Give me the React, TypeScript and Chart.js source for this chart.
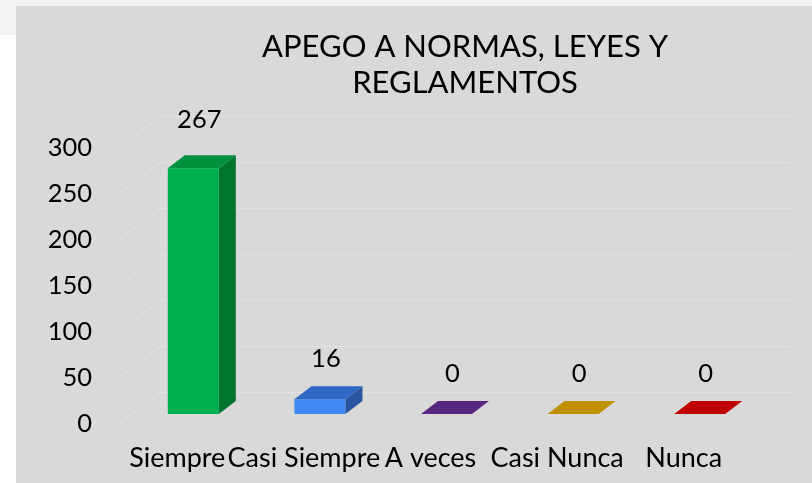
import React, { useEffect, useRef } from 'react';
import { Chart, registerables } from 'chart.js';

Chart.register(...registerables);

const categories = ['Siempre', 'Casi Siempre', 'A veces', 'Casi Nunca', 'Nunca'];
const values = [267, 16, 0, 0, 0];
const yTicks = [0, 50, 100, 150, 200, 250, 300];
const titleLines = ['APEGO A NORMAS, LEYES Y', 'REGLAMENTOS'];

const frontColors = ['#00b050', '#4389f4', '#5b2a86', '#c09000', '#c40000'];
const topColors = ['#00913f', '#2f67c4', '#582681', '#bf9000', '#c00000'];
const sideColors = ['#00752f', '#2a55a0', '#45206a', '#9a7400', '#9a0000'];

const FONT = 'Lato';
const DX = 17;
const DY = -13;

const threeD = {
  id: 'threeD',
  beforeDatasetsDraw(chart: any) {
    const ctx = chart.ctx;
    const ys = chart.scales.y;
    const area = chart.chartArea;
    ctx.save();
    ctx.strokeStyle = '#e2e2e2';
    ctx.lineWidth = 1;
    const x0 = area.left - 13;
    yTicks.forEach((v) => {
      const py = Math.round(ys.getPixelForValue(v) + 10) + 0.5;
      ctx.beginPath();
      ctx.moveTo(x0, py);
      ctx.lineTo(x0 + 43, py - 32);
      ctx.lineTo(area.right + 28, py - 32);
      ctx.stroke();
    });
    ctx.restore();
  },
  afterDatasetsDraw(chart: any) {
    const ctx = chart.ctx;
    const meta = chart.getDatasetMeta(0);
    ctx.save();
    meta.data.forEach((bar: any, i: number) => {
      const { x, y, base, width } = bar.getProps(['x', 'y', 'base', 'width'], true);
      const l = x - width / 2;
      const r = x + width / 2;
      if (base - y > 0.5) {
        ctx.fillStyle = sideColors[i];
        ctx.beginPath();
        ctx.moveTo(r, y);
        ctx.lineTo(r + DX, y + DY);
        ctx.lineTo(r + DX, base + DY);
        ctx.lineTo(r, base);
        ctx.closePath();
        ctx.fill();
      }
      ctx.fillStyle = topColors[i];
      ctx.beginPath();
      ctx.moveTo(l, y);
      ctx.lineTo(r, y);
      ctx.lineTo(r + DX, y + DY);
      ctx.lineTo(l + DX, y + DY);
      ctx.closePath();
      ctx.fill();
    });
    ctx.restore();
  },
  afterDraw(chart: any) {
    const ctx = chart.ctx;
    const meta = chart.getDatasetMeta(0);
    ctx.save();
    ctx.fillStyle = '#000';
    ctx.textAlign = 'center';
    ctx.textBaseline = 'middle';
    ctx.font = `25.5px ${FONT}`;
    meta.data.forEach((bar: any, i: number) => {
      const { x, y, base } = bar.getProps(['x', 'y', 'base'], true);
      const h = base - y;
      ctx.fillText(String(values[i]), x + 6, y - 40 - h * 0.035);
    });
    ctx.textBaseline = 'alphabetic';
    ctx.font = `31px ${FONT}`;
    ctx.fillText(titleLines[0], 449, 51);
    ctx.fillText(titleLines[1], 449, 87);
    ctx.restore();
  },
};

export default function App() {
  const ref = useRef<HTMLCanvasElement>(null);
  useEffect(() => {
    if (!ref.current) return;
    const chart = new Chart(ref.current, {
      type: 'bar',
      data: {
        labels: categories,
        datasets: [
          {
            data: values,
            backgroundColor: frontColors,
            borderWidth: 0,
            barPercentage: 0.403,
            categoryPercentage: 1,
          },
        ],
      },
      options: {
        responsive: false,
        animation: false,
        devicePixelRatio: 1,
        layout: { padding: { top: 132, right: 49, left: 0, bottom: 0 } },
        plugins: {
          legend: { display: false },
          title: { display: false },
          tooltip: { enabled: false },
        },
        scales: {
          x: {
            grid: { display: false, drawTicks: false },
            border: { display: false },
            ticks: {
              color: '#000',
              font: { family: FONT, size: 27 },
              padding: 28,
              labelOffset: -16,
              maxRotation: 0,
              minRotation: 0,
              autoSkip: false,
            },
            afterFit: (s: any) => {
              s.height = 69;
            },
          },
          y: {
            min: 0,
            max: 300,
            grid: { display: false, drawTicks: false },
            border: { display: false },
            ticks: {
              stepSize: 50,
              color: '#000',
              font: { family: FONT, size: 25.5 },
              padding: 38,
              labelOffset: 10,
            },
            afterFit: (s: any) => {
              s.width = 114;
            },
          },
        },
      },
      plugins: [threeD],
    });
    return () => chart.destroy();
  }, []);

  return (
    <div style={{ position: 'absolute', left: 0, top: 0, width: 812, height: 483, background: '#ffffff', overflow: 'hidden' }}>
      <div style={{ position: 'absolute', left: 0, top: 0, width: 812, height: 35, background: '#f2f2f2' }} />
      <div style={{ position: 'absolute', left: 16, top: 6, width: 796, height: 477, background: '#d9d9d9' }}>
        <canvas ref={ref} width={796} height={477} style={{ display: 'block', width: 796, height: 477 }} />
      </div>
    </div>
  );
}
